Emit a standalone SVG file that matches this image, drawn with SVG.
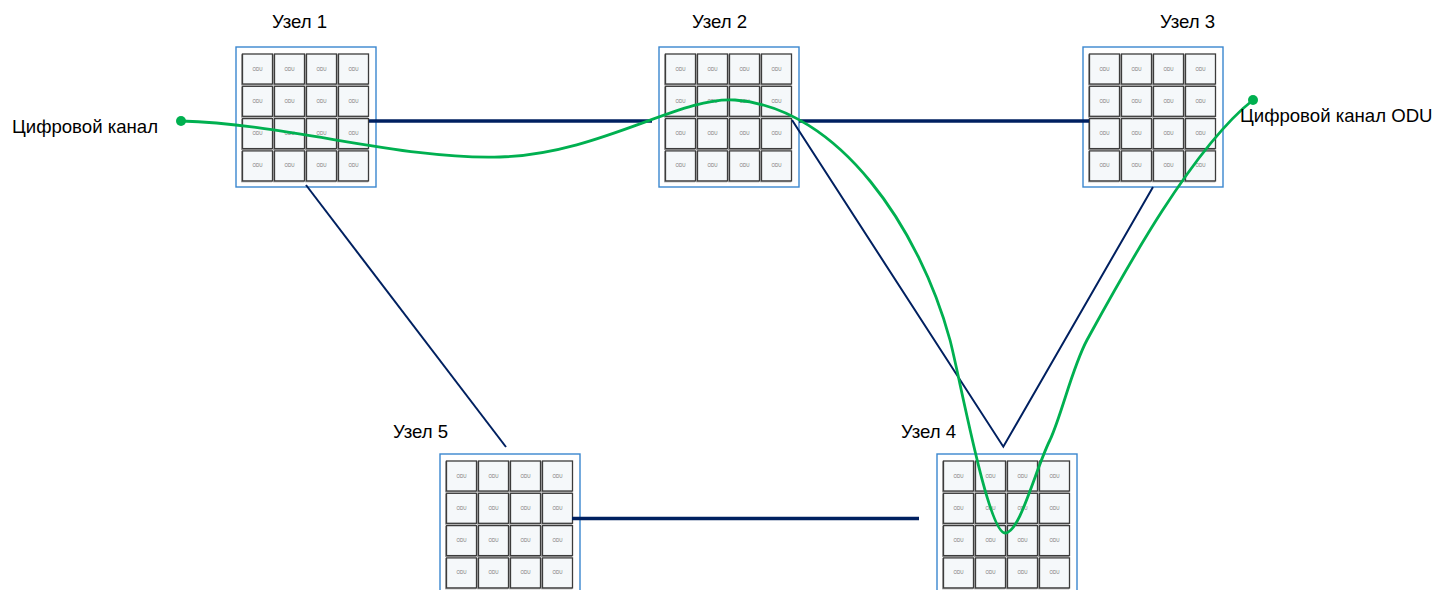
<svg xmlns="http://www.w3.org/2000/svg" xmlns:xlink="http://www.w3.org/1999/xlink" width="1438" height="590" viewBox="0 0 1438 590">
  <style>
    .box { fill: #ffffff; stroke: #3a87cf; stroke-width: 1.4; }
    .cell { fill: #f5f8fa; stroke: #3c3c3c; stroke-width: 1.3; }
    .shade { fill: none; stroke: #9a9a9a; stroke-width: 1.2; }
    .odu { font-family: "Liberation Sans", Arial, sans-serif; font-size: 4.5px; fill: #777777; text-anchor: middle; }
    .label { font-family: "Liberation Sans", Arial, sans-serif; font-size: 18.6px; fill: #000000; }
    .trunk { fill: none; stroke: #002060; stroke-width: 3.6; }
    .link { fill: none; stroke: #002060; stroke-width: 2; }
    .path { fill: none; stroke: #00b050; stroke-width: 2.8; }
    .dot { fill: #00b050; }
  </style>
  <defs>
    <!-- one ODU cell: shaded frame + tiny caption -->
    <g id="cell">
      <rect class="shade" x="-0.8" y="0.8" width="30" height="30"/>
      <rect class="cell" x="0" y="0" width="30" height="30"/>
      <text class="odu" x="15" y="16.5">ODU</text>
    </g>
    <!-- 4x4 switching matrix of a node -->
    <g id="matrix">
      <rect class="box" x="0" y="0" width="140" height="140"/>
      <g transform="translate(6.5,7)">
        <use xlink:href="#cell" x="0" y="0"/><use xlink:href="#cell" x="32" y="0"/><use xlink:href="#cell" x="64" y="0"/><use xlink:href="#cell" x="96" y="0"/>
        <use xlink:href="#cell" x="0" y="32.3"/><use xlink:href="#cell" x="32" y="32.3"/><use xlink:href="#cell" x="64" y="32.3"/><use xlink:href="#cell" x="96" y="32.3"/>
        <use xlink:href="#cell" x="0" y="64.6"/><use xlink:href="#cell" x="32" y="64.6"/><use xlink:href="#cell" x="64" y="64.6"/><use xlink:href="#cell" x="96" y="64.6"/>
        <use xlink:href="#cell" x="0" y="96.9"/><use xlink:href="#cell" x="32" y="96.9"/><use xlink:href="#cell" x="64" y="96.9"/><use xlink:href="#cell" x="96" y="96.9"/>
      </g>
    </g>
  </defs>

  <rect x="0" y="0" width="1438" height="590" fill="#ffffff"/>

  <!-- nodes -->
  <g id="node1">
    <use xlink:href="#matrix" x="236" y="47"/>
    <text class="label" x="272" y="28">Узел 1</text>
  </g>
  <g id="node2">
    <use xlink:href="#matrix" x="659" y="47"/>
    <text class="label" x="692" y="28">Узел 2</text>
  </g>
  <g id="node3">
    <use xlink:href="#matrix" x="1083" y="47"/>
    <text class="label" x="1160" y="28">Узел 3</text>
  </g>
  <g id="node5">
    <use xlink:href="#matrix" x="440" y="454"/>
    <text class="label" x="393" y="438">Узел 5</text>
  </g>
  <g id="node4">
    <use xlink:href="#matrix" x="937" y="454"/>
    <text class="label" x="901" y="438">Узел 4</text>
  </g>

  <!-- links between nodes -->
  <g id="connectors">
    <line class="trunk" x1="369" y1="121" x2="652" y2="121"/>
    <line class="trunk" x1="799" y1="121" x2="1089" y2="121"/>
    <line class="trunk" x1="572" y1="518.5" x2="919" y2="518.5"/>
    <line class="link" x1="306" y1="185" x2="506" y2="447"/>
    <polyline class="link" points="792,120 1003.3,446.7 1153,187"/>
  </g>

  <!-- end-to-end digital channel route -->
  <g id="channel">
    <path class="path" d="M181,121 C290,124 400,160 500,157 C600,154 680,96 735,100 C840,108 920,230 950,340 C960,378 988,533 1005,533 C1020,533 1035,470 1050,440 C1062,414 1072,368 1087,340 C1120,280 1190,150 1253,100"/>
    <circle class="dot" cx="181" cy="121" r="5"/>
    <circle class="dot" cx="1253" cy="100" r="5"/>
    <text class="label" x="12" y="133">Цифровой канал</text>
    <text class="label" x="1240" y="122">Цифровой канал ODU</text>
  </g>
</svg>
